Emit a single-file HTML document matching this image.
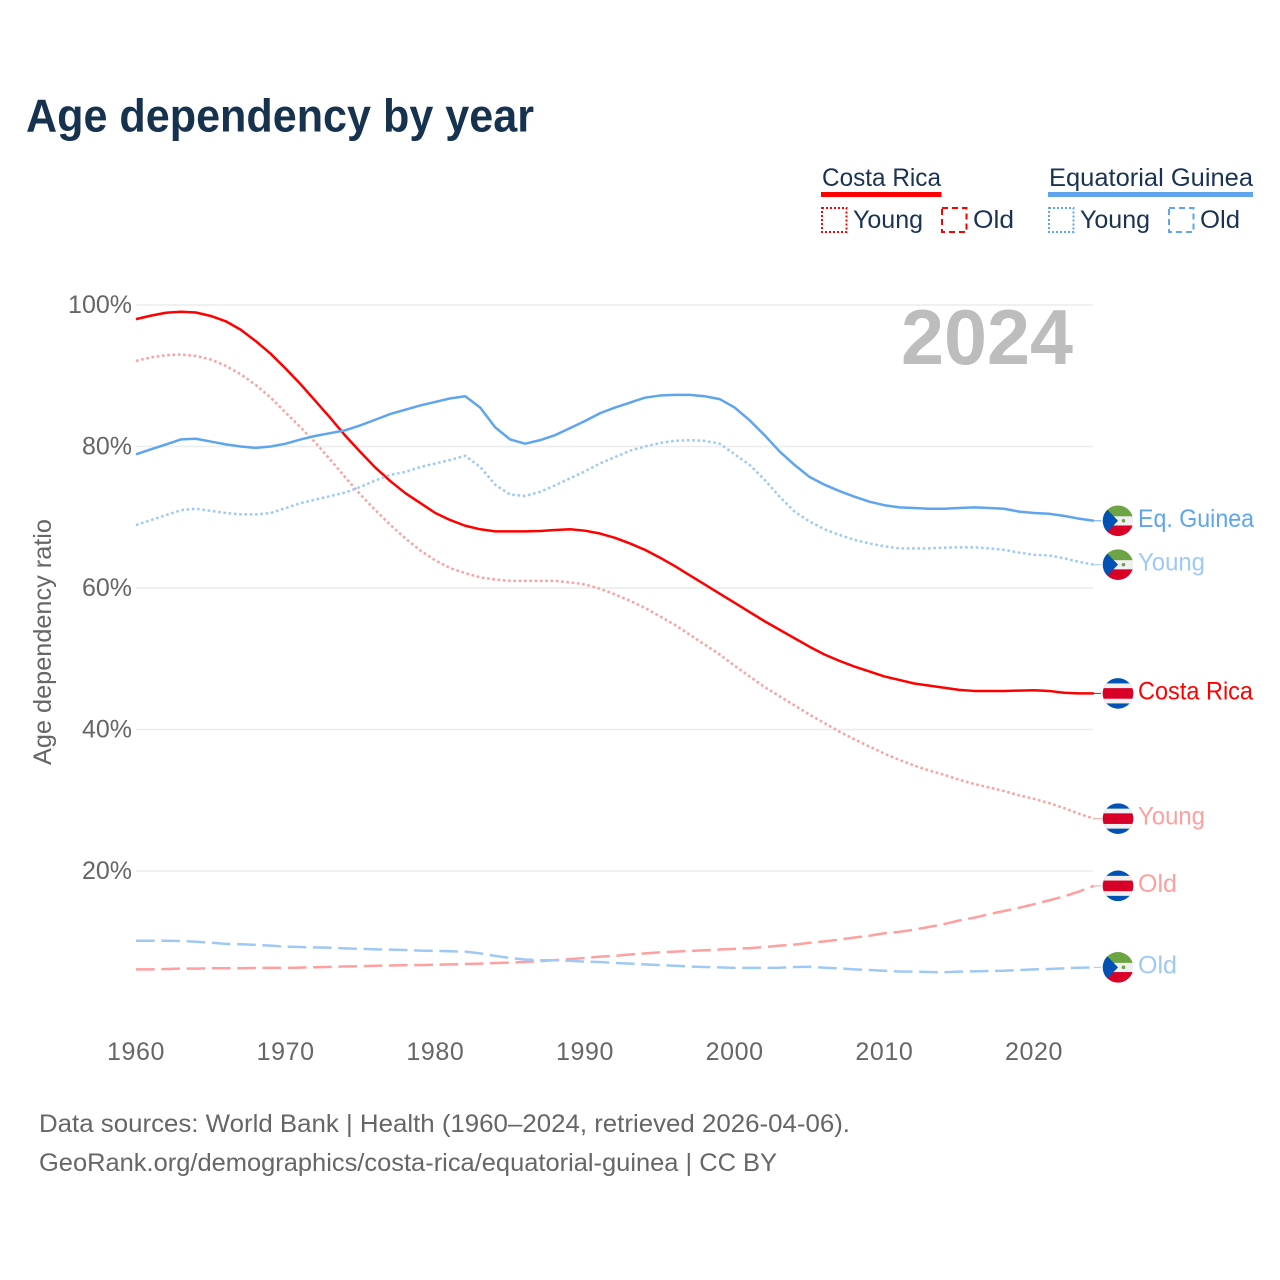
<!DOCTYPE html>
<html lang="en">
<head>
<meta charset="utf-8">
<title>Age dependency by year</title>
<style>
  html, body { margin: 0; padding: 0; background: #fff; }
  svg { display: block; }
  text { font-family: "Liberation Sans", sans-serif; }
</style>
</head>
<body>
<svg id="chart" xmlns="http://www.w3.org/2000/svg" width="1280" height="1280" viewBox="0 0 1280 1280">
  <text x="26" y="131.5" font-size="46" font-weight="700" fill="#17324f" textLength="508" lengthAdjust="spacingAndGlyphs">Age dependency by year</text>

  <g font-size="25" fill="#1a3353">
    <text x="822" y="186" textLength="119" lengthAdjust="spacingAndGlyphs">Costa Rica</text>
    <rect x="821" y="192" width="120.5" height="5" fill="#ff0000"/>
    <rect x="822" y="208" width="24.5" height="24" fill="none" stroke="#ff0000" stroke-width="2" stroke-dasharray="2 2"/>
    <text x="853" y="228" textLength="70" lengthAdjust="spacingAndGlyphs">Young</text>
    <rect x="942" y="208" width="24.5" height="24" fill="none" stroke="#ff0000" stroke-width="2" stroke-dasharray="6 4"/>
    <text x="973" y="228" textLength="41" lengthAdjust="spacingAndGlyphs">Old</text>

    <text x="1049" y="186" textLength="204" lengthAdjust="spacingAndGlyphs">Equatorial Guinea</text>
    <rect x="1048" y="192" width="205" height="5" fill="#5ea5ee"/>
    <rect x="1049" y="208" width="24.5" height="24" fill="none" stroke="#5ea5ee" stroke-width="2" stroke-dasharray="2 2"/>
    <text x="1080" y="228" textLength="70" lengthAdjust="spacingAndGlyphs">Young</text>
    <rect x="1169" y="208" width="24.5" height="24" fill="none" stroke="#5ea5ee" stroke-width="2" stroke-dasharray="6 4"/>
    <text x="1200" y="228" textLength="40" lengthAdjust="spacingAndGlyphs">Old</text>
  </g>

  <text transform="translate(51 642) rotate(-90)" text-anchor="middle" font-size="25" fill="#666666" textLength="246" lengthAdjust="spacingAndGlyphs">Age dependency ratio</text>

  <g id="grid"></g>
  <g id="y-ticks"></g>
  <g id="x-ticks"></g>

  <text x="1073" y="364" text-anchor="end" font-size="78" font-weight="700" fill="#bdbdbd" textLength="172" lengthAdjust="spacingAndGlyphs">2024</text>

  <g id="series"></g>
  <g id="end-labels"></g>

  <g font-size="25" fill="#666666">
    <text x="39" y="1132" textLength="811" lengthAdjust="spacingAndGlyphs">Data sources: World Bank | Health (1960–2024, retrieved 2026-04-06).</text>
    <text x="39" y="1171" textLength="738" lengthAdjust="spacingAndGlyphs">GeoRank.org/demographics/costa-rica/equatorial-guinea | CC BY</text>
  </g>
</svg>

<script>
const startYear = 1960;
const xTickYears = [1960, 1970, 1980, 1990, 2000, 2010, 2020];
const yTickValues = [20, 40, 60, 80, 100];
const yTickLabels = ['20%', '40%', '60%', '80%', '100%'];

const costaRicaTotal = [98.0,98.5,98.9,99.05,98.94,98.45,97.7,96.5,94.9,93.1,91,88.8,86.4,84,81.5,79.2,77,75.1,73.4,72,70.6,69.6,68.8,68.3,68,68,68,68.05,68.2,68.3,68.1,67.7,67.1,66.3,65.4,64.3,63.1,61.8,60.5,59.2,57.9,56.6,55.3,54.1,52.9,51.7,50.6,49.7,48.9,48.2,47.5,47,46.5,46.2,45.9,45.6,45.45,45.45,45.45,45.5,45.55,45.45,45.2,45.1,45.1];
const costaRicaYoung = [92.1,92.6,92.9,93,92.8,92.3,91.4,90.2,88.7,86.9,84.8,82.7,80.5,78.1,75.6,73.2,71,68.9,67,65.3,63.9,62.8,62.1,61.5,61.2,61,61,61,61,60.8,60.5,59.9,59.1,58.2,57.2,56,54.8,53.4,52,50.6,49,47.5,46,44.7,43.4,42.1,40.9,39.7,38.6,37.6,36.6,35.7,34.9,34.2,33.6,32.9,32.3,31.8,31.3,30.7,30.2,29.6,28.9,28.1,27.4];
const costaRicaOld = [6.1,6.1,6.15,6.2,6.2,6.25,6.25,6.25,6.3,6.3,6.3,6.35,6.4,6.45,6.5,6.55,6.6,6.65,6.7,6.7,6.75,6.8,6.85,6.9,7,7.05,7.15,7.25,7.4,7.55,7.7,7.9,8,8.2,8.35,8.5,8.6,8.7,8.8,8.9,9,9.1,9.25,9.45,9.6,9.85,10.05,10.3,10.6,10.85,11.2,11.4,11.7,12.1,12.5,13,13.4,13.9,14.35,14.8,15.3,15.85,16.4,17.1,17.9];
const guineaTotal = [78.9,79.6,80.3,81,81.1,80.7,80.3,80,79.8,80,80.4,81,81.5,81.9,82.3,83,83.8,84.6,85.2,85.8,86.3,86.8,87.1,85.5,82.7,81,80.4,80.9,81.6,82.6,83.6,84.7,85.5,86.2,86.9,87.2,87.3,87.3,87.1,86.7,85.5,83.7,81.6,79.3,77.4,75.7,74.6,73.7,72.9,72.2,71.7,71.4,71.3,71.2,71.2,71.3,71.4,71.3,71.2,70.8,70.6,70.5,70.2,69.8,69.5];
const guineaYoung = [68.9,69.6,70.3,71,71.2,70.9,70.6,70.4,70.4,70.6,71.3,72,72.5,73,73.5,74.3,75.2,76,76.4,77.1,77.6,78.1,78.7,77.1,74.6,73.2,73,73.6,74.5,75.5,76.5,77.6,78.5,79.4,80,80.5,80.8,80.9,80.8,80.4,78.9,77.4,75.3,72.9,70.8,69.4,68.3,67.5,66.8,66.3,65.9,65.6,65.6,65.6,65.7,65.75,65.75,65.6,65.4,65,64.7,64.6,64.2,63.7,63.3];
const guineaOld = [10.15,10.15,10.15,10.1,10,9.87,9.7,9.65,9.55,9.45,9.3,9.25,9.2,9.15,9.07,9,8.93,8.88,8.83,8.75,8.7,8.65,8.6,8.36,8,7.7,7.5,7.4,7.38,7.32,7.18,7.14,7,6.9,6.8,6.7,6.6,6.5,6.43,6.38,6.3,6.3,6.3,6.33,6.43,6.47,6.33,6.24,6.1,6,5.9,5.8,5.77,5.72,5.68,5.77,5.82,5.87,5.9,6,6.1,6.15,6.24,6.33,6.38];

const seriesValues = [costaRicaYoung, costaRicaOld, costaRicaTotal, guineaYoung, guineaOld, guineaTotal];
const seriesNames = ['costa-rica-young', 'costa-rica-old', 'costa-rica-total', 'equatorial-guinea-young', 'equatorial-guinea-old', 'equatorial-guinea-total'];
const seriesLabels = ['Young', 'Old', 'Costa Rica', 'Young', 'Old', 'Eq. Guinea'];
const seriesCountry = ['cr', 'cr', 'cr', 'gq', 'gq', 'gq'];
const seriesColors = ['#ff9f9f', '#ff9f9f', '#ff0000', '#9fc9f5', '#9fc9f5', '#5ea5ee'];
const seriesDash = ['2.6 2.7', '18.7 6.6', '', '2.6 2.7', '18.7 6.6', ''];

const NS = 'http://www.w3.org/2000/svg';
function x(year) { return 136 + (year - 1960) * 14.967; }
function y(value) { return 1012.5 - value * 7.075; }
function make(tag, parent, attrs, content) {
  const node = document.createElementNS(NS, tag);
  for (const key in attrs) node.setAttribute(key, attrs[key]);
  if (content !== undefined) node.textContent = content;
  parent.appendChild(node);
  return node;
}

const gridGroup = document.getElementById('grid');
const yTickGroup = document.getElementById('y-ticks');
const xTickGroup = document.getElementById('x-ticks');
const seriesGroup = document.getElementById('series');
const labelGroup = document.getElementById('end-labels');

yTickValues.forEach(function (value, i) {
  const line = make('line', gridGroup, { x1: 136, x2: 1093, y1: y(value), y2: y(value), stroke: '#ececec', 'stroke-width': 1.4 });
  
  
  const tick = make('text', yTickGroup, { x: 132, y: y(value) + 8, 'text-anchor': 'end', 'font-size': 25, fill: '#666666' }, yTickLabels[i]);
  
  
});

xTickYears.forEach(function (year) {
  const tick = make('text', xTickGroup, { x: x(year), y: 1060, 'text-anchor': 'middle', 'font-size': 25, 'letter-spacing': 0.6, fill: '#666666' }, String(year));
  
  
});

function drawCostaRicaFlag(parent, cy) {
  const cx = 1118;
  make('rect', parent, { x: cx - 16, y: cy - 16, width: 32, height: 32, fill: '#0052b4' });
  make('rect', parent, { x: cx - 16, y: cy - 10, width: 32, height: 20, fill: '#f0f0f0' });
  make('rect', parent, { x: cx - 16, y: cy - 5.3, width: 32, height: 10.6, fill: '#d80027' });
}
function drawGuineaFlag(parent, cy) {
  const cx = 1118;
  make('rect', parent, { x: cx - 16, y: cy - 16, width: 32, height: 32, fill: '#f0f0f0' });
  make('rect', parent, { x: cx - 16, y: cy - 16, width: 32, height: 11.5, fill: '#6da544' });
  make('rect', parent, { x: cx - 16, y: cy + 4.7, width: 32, height: 11.5, fill: '#d80027' });
  make('polygon', parent, { points: [cx - 11, cy - 11.5, cx, cy, cx - 11, cy + 11.5, cx - 16, cy + 11.5, cx - 16, cy - 11.5].join(' '), fill: '#0052b4' });
  make('circle', parent, { cx: cx + 5.5, cy: cy, r: 1.8, fill: '#6da544' });
}

const lastYear = startYear + costaRicaTotal.length - 1;

seriesValues.forEach(function (values, s) {
  const d = values.map(function (value, i) { return x(startYear + i).toFixed(2) + ',' + y(value).toFixed(2); }).join(' ');
  const attrs = { points: d, fill: 'none', stroke: seriesColors[s], 'stroke-width': 2.5, 'stroke-linejoin': 'round' };
  if (seriesDash[s]) attrs['stroke-dasharray'] = seriesDash[s];
  const line = make('polyline', seriesGroup, attrs);
  
  

  const endY = y(values[values.length - 1]);
  const connector = make('line', labelGroup, { x1: x(lastYear), x2: 1101, y1: endY, y2: endY, stroke: seriesColors[s], 'stroke-width': 1 });
  
  

  const clip = make('clipPath', labelGroup, { id: 'clip-' + s });
  make('circle', clip, { cx: 1118, cy: endY, r: 15.3 });
  const flag = make('g', labelGroup, { 'clip-path': 'url(#clip-' + s + ')' });
  
  
  if (seriesCountry[s] === 'cr') drawCostaRicaFlag(flag, endY); else drawGuineaFlag(flag, endY);

  const label = make('text', labelGroup, { x: 1138, y: endY + 6, 'font-size': 25, fill: seriesColors[s] }, seriesLabels[s]);
  label.setAttribute('textLength', seriesLabels[s].length === 10 ? (seriesLabels[s] === 'Costa Rica' ? 115 : 116) : (seriesLabels[s] === 'Young' ? 67 : 39));
  label.setAttribute('lengthAdjust', 'spacingAndGlyphs');
  
  
});
</script>
</body>
</html>
